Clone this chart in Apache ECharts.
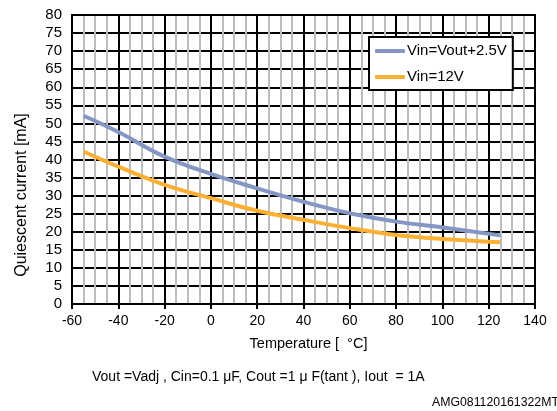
<!DOCTYPE html>
<html><head><meta charset="utf-8">
<script src="https://cdn.jsdelivr.net/npm/echarts@6/dist/echarts.min.js"></script>
<style>html,body{margin:0;padding:0;background:#fff}#c{width:557px;height:411px}</style>
</head><body><div id="c"></div>
<script>
const temps = [-55, -40, -20, 0, 20, 40, 60, 80, 100, 125];
const vinVoutPlus = [52.1, 47.6, 40.8, 36.0, 32.0, 28.3, 25.1, 22.8, 21.2, 19.0];
const vin12 = [42.2, 38.0, 33.0, 29.3, 25.8, 23.3, 21.0, 19.1, 18.0, 17.1];
const seriesNames = ['Vin=Vout+2.5V', 'Vin=12V'];
const xTitle = 'Temperature [  °C]';
const yTitle = 'Quiescent current [mA]';
const note = 'Vout =Vadj , Cin=0.1 μF, Cout =1 μ F(tant ), Iout  = 1A';
const code = 'AMG081120161322MT';

const font = 'Liberation Sans, Arial, sans-serif';
const chart = echarts.init(document.getElementById('c'));
chart.setOption({
  animation: false,
  textStyle: {fontFamily: font},
  grid: {left: 72, right: 22, top: 15, bottom: 107, show: true, borderColor: '#000', borderWidth: 2, z: 3},
  xAxis: {
    type: 'value', min: -60, max: 140, interval: 20,
    name: xTitle, nameLocation: 'middle', nameGap: 32,
    nameTextStyle: {color: '#000', fontSize: 14.5, fontFamily: font, padding: [0, 0, 0, 10]},
    axisLine: {show: true, lineStyle: {color: '#000', width: 2}},
    axisTick: {show: true, inside: false, length: 5, lineStyle: {color: '#000', width: 2}},
    axisLabel: {color: '#000', fontSize: 14, margin: 10, fontFamily: font},
    splitLine: {show: true, lineStyle: {color: '#000', width: 2}},
    minorTick: {show: false, splitNumber: 4},
    minorSplitLine: {show: true, lineStyle: {color: '#bdbdbd', width: 2}}
  },
  yAxis: {
    type: 'value', min: 0, max: 80, interval: 5,
    axisLine: {show: true, lineStyle: {color: '#000', width: 2}},
    axisTick: {show: true, length: 4, lineStyle: {color: '#000', width: 2}},
    axisLabel: {color: '#000', fontSize: 15, margin: 10, fontFamily: font},
    splitLine: {show: true, lineStyle: {color: '#000', width: 2}}
  },
  legend: {
    left: 369, top: 37, orient: 'vertical',
    backgroundColor: '#fff', borderColor: '#000', borderWidth: 2,
    padding: [6, 6, 5, 6], itemGap: 10, itemWidth: 30, itemHeight: 4,
    textStyle: {color: '#000', fontSize: 15, lineHeight: 16, fontFamily: font, padding: [0, 0, 0, -3]},
    data: [
      {name: seriesNames[0], icon: 'roundRect'},
      {name: seriesNames[1], icon: 'roundRect'}
    ]
  },
  graphic: [
    {type: 'text', x: 22, y: 195, rotation: Math.PI / 2,
     style: {text: yTitle, fill: '#000', font: '16px ' + font, align: 'center', verticalAlign: 'middle'}},
    {type: 'text', left: 92, top: 370, style: {text: note, fill: '#000', font: '14px ' + font}},
    {type: 'text', left: 432, top: 397, style: {text: code, fill: '#000', font: '12.3px ' + font}}
  ],
  series: [
    {name: seriesNames[0], type: 'line', smooth: 0.4, showSymbol: false, z: 5,
     color: '#8497c4', lineStyle: {width: 4, color: '#8497c4'},
     data: temps.map((t, i) => [t, vinVoutPlus[i]])},
    {name: seriesNames[1], type: 'line', smooth: 0.4, showSymbol: false, z: 5,
     color: '#fbb034', lineStyle: {width: 4, color: '#fbb034'},
     data: temps.map((t, i) => [t, vin12[i]])}
  ]
});
</script></body></html>
